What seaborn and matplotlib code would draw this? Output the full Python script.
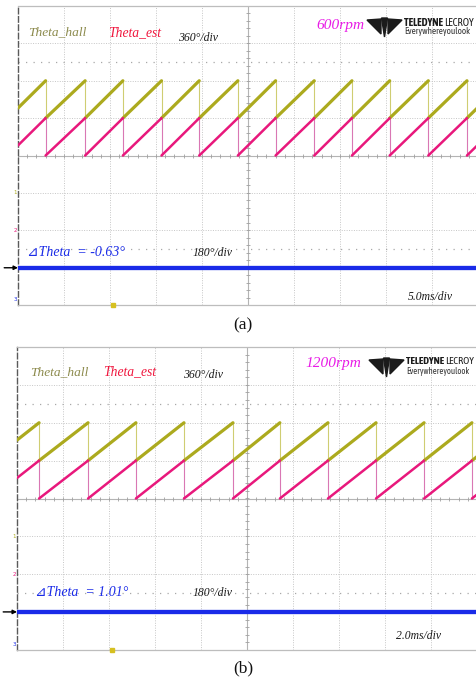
"""
Oscilloscope captures of hall angle vs estimated angle at 600 and 1200 rpm.
"""

import matplotlib.pyplot as plt
import numpy as np
import pandas as pd
import seaborn as sns
from matplotlib import font_manager
from matplotlib.patches import Polygon

sns.set_style("white")

W, H = 477, 678  # output size in pixels

# panel (a): 600 rpm, 5.0 ms/div
a_drops_ms = [3.0, 7.3, 11.4, 15.6, 19.7, 23.9, 28.0, 32.2, 36.3, 40.4, 44.6, 48.8]
a_start_deg = 97
a_end_deg = 104
a_span_ms = 50.0
a_dtheta_deg = -0.63

# panel (b): 1200 rpm, 2.0 ms/div
b_drops_ms = [0.96, 3.09, 5.17, 7.26, 9.39, 11.43, 13.52, 15.61, 17.70, 19.78]
b_start_deg = 195
b_end_deg = 38
b_span_ms = 20.0
b_dtheta_deg = 1.01

HALL = "#acaa1e"
HALL_DROP = "#cfcd72"
EST = "#e8187c"
EST_DROP = "#d977b4"
BLUE = "#1a2be8"

SERIF = ["Liberation Serif", "DejaVu Serif"]
SYMB = ["Liberation Serif", "DejaVu Sans"]


def pick_narrow():
    fonts = font_manager.fontManager.ttflist
    narrow = [f for f in fonts if "Narrow" in f.name or "Condensed" in f.name]
    for f in narrow:
        if any(g.name == f.name and g.weight in ("bold", 700) for g in narrow):
            return f.name, "normal"
    for f in fonts:
        if f.name == "DejaVu Sans" and "condensed" in str(f.stretch):
            return "DejaVu Sans", "condensed"
    if narrow:
        return narrow[0].name, "normal"
    return "Liberation Sans", "normal"


NARROW, STRETCH = pick_narrow()


def px(x, y):
    """Pixel position (from top-left) -> figure fraction."""
    return x / W, 1 - y / H


def saw_frame(drops, start, end, span):
    edges = [0.0, *drops, span]
    rows = []
    for k in range(len(edges) - 1):
        v0 = start if k == 0 else 0
        v1 = end if k == len(edges) - 2 else 360
        rows += [(k, edges[k], v0), (k, edges[k + 1], v1)]
    return pd.DataFrame(rows, columns=["seg", "t", "deg"])


def draw_screen(ax, drops, start, end, span, dtheta):
    div = span / 10
    saw = saw_frame(drops, start, end, span)
    est = saw.assign(y=saw["deg"] / 360)
    hall = saw.assign(y=saw["deg"] / 360 + 1)

    # vertical fly-back edges, thin and pale
    ax.vlines(drops, 1, 2, color=HALL_DROP, lw=0.8, zorder=3)
    ax.vlines(drops, 0, 1, color=EST_DROP, lw=0.8, zorder=3)
    sns.lineplot(data=hall, x="t", y="y", units="seg", estimator=None,
                 color=HALL, lw=2.3, ax=ax, zorder=4)
    sns.lineplot(data=est, x="t", y="y", units="seg", estimator=None,
                 color=EST, lw=1.8, ax=ax, zorder=4)

    blue_y = -3 + dtheta / 180
    sns.lineplot(x=[0, span], y=[blue_y, blue_y], color=BLUE, lw=3.1, ax=ax, zorder=4)

    # graticule
    ax.set_xlim(0, span)
    ax.set_ylim(-4, 4)
    ax.set_xticks(np.arange(1, 10) * div)
    ax.set_yticks(np.arange(-3, 4))
    ax.grid(True, color="#c6c6c6", linestyle=(0, (1, 1.5)), linewidth=0.7)
    ax.tick_params(length=0, labelbottom=False, labelleft=False)
    ax.set_xlabel("")
    ax.set_ylabel("")
    for side in ("top", "right", "bottom"):
        ax.spines[side].set_color("#bdbdbd")
        ax.spines[side].set_linewidth(0.9)
    ax.spines["left"].set_color("#5a5a5a")
    ax.spines["left"].set_linestyle((0, (4, 2)))
    ax.spines["left"].set_linewidth(1.0)

    ax.axvline(5 * div, color="#b4b4b4", lw=0.8, zorder=1)
    ax.axhline(0, color="#b4b4b4", lw=0.8, zorder=1)
    yy = np.arange(-4, 4.01, 0.2)
    xx = np.arange(0, span + 1e-9, div / 5)
    ax.plot(np.full(len(yy), 5 * div), yy, ls="none", marker="_", ms=3.5,
            mew=0.6, color="#a0a0a0", zorder=2)
    ax.plot(xx, np.zeros(len(xx)), ls="none", marker="|", ms=3.5,
            mew=0.6, color="#a0a0a0", zorder=2)
    for lvl in (2.5, -2.5):
        ax.axhline(lvl, color="#a8a8a8", ls=(0, (1, 5)), lw=0.9, zorder=1)

    # channel markers, ground arrow, trigger marker
    yax = ax.get_yaxis_transform()
    for lvl, label, col in ((-1, "1", HALL), (-2, "2", EST), (-3.85, "3", BLUE)):
        ax.text(-0.006, lvl, label, transform=yax, fontsize=4, color=col,
                ha="center", va="center", clip_on=False)
    ax.annotate("", xy=(0, blue_y), xytext=(-0.03, blue_y),
                xycoords=yax, textcoords=yax,
                arrowprops=dict(arrowstyle="-|>", color="black", lw=1.0,
                                mutation_scale=6, shrinkA=0, shrinkB=0))
    ax.plot([2.07 * div], [-4], marker="s", ms=2.2, color="#d6c020",
            clip_on=False, zorder=5)


def fit_row(fig, x_left, y, pieces, size, max_px, color):
    """Lay words side by side and scale them so the row spans max_px."""
    r = fig.canvas.get_renderer()
    texts = []
    for word, weight, gap in pieces:
        texts.append((fig.text(0, px(0, y)[1], word, fontfamily=NARROW,
                               fontstretch=STRETCH, fontweight=weight,
                               fontsize=size, color=color, va="center"), gap))
    for _ in range(3):
        x = x_left
        for t, gap in texts:
            t.set_x((x + gap) / W)
            x = t.get_window_extent(r).x1
        width = x - x_left
        for t, _gap in texts:
            t.set_fontsize(t.get_fontsize() * max_px / width)
    x = x_left
    for t, gap in texts:
        t.set_x((x + gap) / W)
        x = t.get_window_extent(r).x1


def draw_logo(fig, x0, y0):
    blades = [
        [(0, 2), (14, 1), (14, 16)],
        [(14.5, 0), (20.5, 0), (17.5, 19)],
        [(21, 1), (35, 2), (21, 16)],
    ]
    for blade in blades:
        pts = [px(x0 + bx, y0 + by) for bx, by in blade]
        fig.add_artist(Polygon(pts, closed=True, color="#1b1b1b",
                               transform=fig.transFigure))
    fit_row(fig, x0 + 37, y0 + 4,
            [("TELEDYNE", "bold", 0), ("LECROY", "normal", 1.5)],
            8.0, 474 - (x0 + 37), "#1b1b1b")
    fit_row(fig, x0 + 37, y0 + 14,
            [("Everywhereyoulook", "normal", 0)],
            7.0, 470 - (x0 + 37), "#333333")


def label(fig, x, y, s, color, size, family=SERIF, style="italic"):
    fig.text(*px(x, y), s, color=color, fontsize=size, fontfamily=family,
             fontstyle=style, ha="left", va="center")


def start() -> None:
    fig = plt.figure(figsize=(W / 100, H / 100), dpi=100)

    ax_a = fig.add_axes([18 / W, 1 - 305 / H, 460 / W, 299 / H])
    draw_screen(ax_a, a_drops_ms, a_start_deg, a_end_deg, a_span_ms, a_dtheta_deg)
    ax_b = fig.add_axes([17 / W, 1 - 650 / H, 460 / W, 303 / H])
    draw_screen(ax_b, b_drops_ms, b_start_deg, b_end_deg, b_span_ms, b_dtheta_deg)

    # panel (a) annotations
    label(fig, 28, 32, "Theta_hall", "#8c8a4c", 9.6)
    label(fig, 108, 33, "Theta_est", "#f0173e", 9.8)
    label(fig, 178, 38, "360°/div", "#1a1a1a", 8.5)
    label(fig, 316, 25, "600rpm", "#e81ce6", 11.1)
    draw_logo(fig, 367, 18)
    label(fig, 27, 253, f"⊿Theta  = {a_dtheta_deg:.2f}°", BLUE, 10, family=SYMB)
    label(fig, 193, 253, "180°/div", "#1a1a1a", 8.5)
    label(fig, 408, 297, "5.0ms/div", "#1a1a1a", 8.4)
    fig.text(*px(243, 325), "(a)", fontfamily=SERIF, fontsize=12.5,
             ha="center", va="center", color="#111111")

    # panel (b) annotations
    label(fig, 30, 372, "Theta_hall", "#8c8a4c", 9.6)
    label(fig, 103, 372, "Theta_est", "#f0173e", 9.8)
    label(fig, 183, 375, "360°/div", "#1a1a1a", 8.5)
    label(fig, 305, 363, "1200rpm", "#e81ce6", 11.1)
    draw_logo(fig, 369, 358)
    label(fig, 35, 593, f"⊿Theta  = {b_dtheta_deg:.2f}°", BLUE, 10, family=SYMB)
    label(fig, 193, 593, "180°/div", "#1a1a1a", 8.5)
    label(fig, 396, 636, "2.0ms/div", "#1a1a1a", 8.4)
    fig.text(*px(243, 668), "(b)", fontfamily=SERIF, fontsize=12.5,
             ha="center", va="center", color="#111111")

    fig.savefig("out.png", dpi=100)
    plt.close(fig)


if __name__ == "__main__":
    start()
